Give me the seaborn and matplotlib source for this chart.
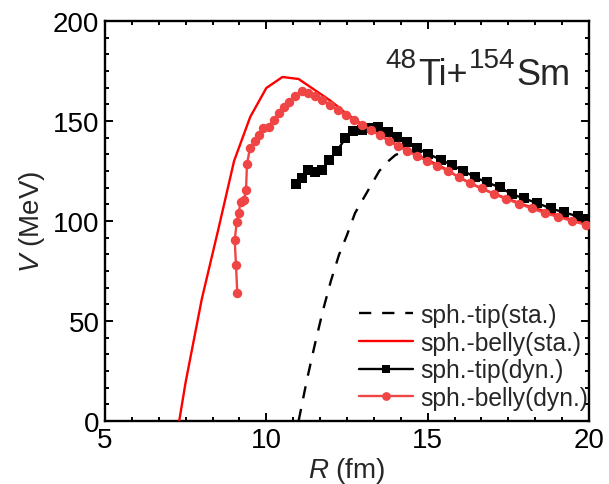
import numpy as np
import pandas as pd
import matplotlib
matplotlib.use("Agg")
import matplotlib.pyplot as plt
from matplotlib.ticker import AutoMinorLocator
from matplotlib.lines import Line2D
import seaborn as sns

# ---- data ----
tip_sta_R = [11.0, 11.25, 11.5, 11.75, 12.0, 12.25, 12.5, 12.75, 13.0, 13.25, 13.5, 13.75, 14.0, 14.3]
tip_sta_V = [0, 20, 38, 55, 70, 83, 93, 104, 111, 118, 125, 129.5, 133, 135]

belly_sta_R = [7.3, 7.5, 8.0, 8.5, 9.0, 9.5, 10.0, 10.5, 11.0, 11.5, 12.0, 12.5, 13.0, 13.5,
               14.0, 14.5, 15.0, 15.5, 16.0, 16.5, 17.0, 17.5, 18.0, 18.5, 19.0, 19.5, 20.0]
belly_sta_V = [0, 19.5, 61, 95, 130, 152, 166.5, 172, 171, 165.5, 160, 153.5, 148, 143,
               138.5, 134.5, 130.5, 126.5, 121.5, 117.5, 114, 111, 108, 105.5, 103, 100.5, 98]

tip_dyn_R = [10.91, 11.09, 11.28, 11.51, 11.71, 11.95, 12.2, 12.45, 12.69, 12.95, 13.21, 13.47,
             13.78, 14.06, 14.37, 14.68, 15.02, 15.4, 15.74, 16.1, 16.47, 16.84, 17.24, 17.6,
             17.98, 18.39, 18.81, 19.23, 19.66, 19.92]
tip_dyn_V = [118.5, 121.5, 125.5, 124.3, 125.5, 130.7, 135.2, 141.4, 144.8, 145.7, 146.3, 146.8,
             144.5, 141.8, 139.3, 136.3, 133.5, 130.7, 128, 125.2, 121.8, 119.3, 116.8, 113.5,
             111.3, 109, 106.3, 104.3, 102.3, 101]

belly_dyn_R = [9.10, 9.06, 9.02, 9.08, 9.14, 9.20, 9.31, 9.37, 9.40, 9.49, 9.64, 9.76, 9.91,
               10.07, 10.24, 10.38, 10.55, 10.69, 10.90, 11.09, 11.28, 11.51, 11.73, 11.97,
               12.21, 12.46, 12.72, 12.98, 13.25, 13.52, 13.80, 14.08, 14.37, 14.67, 14.98,
               15.30, 15.63, 15.97, 16.32, 16.68, 17.05, 17.43, 17.82, 18.22, 18.63, 19.05,
               19.48, 19.92]
belly_dyn_V = [63.8, 78, 90.3, 99.3, 103.8, 109.3, 110.7, 115.5, 128.3, 136.3, 139.8, 143, 146.3,
               147.2, 150.5, 154, 156.8, 159.3, 162.7, 164.8, 163.8, 162.3, 160.7, 158.2,
               155.7, 153.2, 150.5, 148, 145.5, 142.8, 140, 137.5, 135, 132.5, 130,
               127.5, 125, 122, 119, 116.3, 113.5, 111, 108.7, 106.3, 104, 102,
               100, 98]

labels = ["sph.-tip(sta.)", "sph.-belly(sta.)", "sph.-tip(dyn.)", "sph.-belly(dyn.)"]
x_ticks = [5, 10, 15, 20]
y_ticks = [0, 50, 100, 150, 200]
title_parts = [("48", True), ("Ti+", False), ("154", True), ("Sm", False)]

sns.set_theme(style="white")
plt.rcParams["font.family"] = ["Liberation Sans", "DejaVu Sans"]
plt.rcParams["mathtext.fontset"] = "custom"
plt.rcParams["mathtext.rm"] = "Liberation Sans"
plt.rcParams["mathtext.it"] = "Liberation Sans:italic"
plt.rcParams["mathtext.default"] = "regular"

W, H = 609, 485
fig = plt.figure(figsize=(W / 100, H / 100), dpi=100)
ax = fig.add_axes([105/W, 1-422/H, (589-105)/W, (422-22)/H])

red_dyn = "#F04545"
lw = 1.7
ms_sq = 6.5
ms_dot = 6.8

sns.lineplot(x=tip_sta_R, y=tip_sta_V, ax=ax, sort=False, estimator=None, color="black",
             lw=lw, zorder=2)
ax.lines[-1].set_dashes((5.2, 4.6))
sns.lineplot(x=belly_sta_R, y=belly_sta_V, ax=ax, sort=False, estimator=None, color="#FF0000",
             lw=lw, zorder=3)
sns.lineplot(x=tip_dyn_R, y=tip_dyn_V, ax=ax, sort=False, estimator=None, color="black",
             lw=lw, marker="s", markersize=ms_sq, markeredgewidth=0, zorder=4)
sns.lineplot(x=belly_dyn_R, y=belly_dyn_V, ax=ax, sort=False, estimator=None, color=red_dyn,
             lw=lw, marker="o", markersize=ms_dot, markeredgewidth=0, zorder=5)

ax.set_xlim(5, 20)
ax.set_ylim(0, 200)
ax.set_xticks(x_ticks)
ax.set_yticks(y_ticks)
ax.xaxis.set_minor_locator(AutoMinorLocator(6))
ax.yaxis.set_minor_locator(AutoMinorLocator(6))
ax.tick_params(which="both", direction="in", bottom=True, left=True, top=True, right=True,
               width=1.4, colors="black")
ax.tick_params(which="major", length=6, labelsize=20, pad=4)
ax.tick_params(which="minor", length=3)
for s in ax.spines.values():
    s.set_linewidth(1.7)
    s.set_color("black")

ax.set_xlabel(r"$\mathit{R}$ (fm)", fontsize=20, labelpad=2)
ax.set_ylabel(r"$\mathit{V}$ (MeV)", fontsize=20, labelpad=4)

# title "48Ti+154Sm" built from pieces (superscripts larger than mathtext default)
renderer = fig.canvas.get_renderer()
texts = []
for s, sup in title_parts:
    t = fig.text(0, 0, s, fontsize=20 if sup else 26, ha="left", va="baseline")
    texts.append((t, sup))
widths = [t.get_window_extent(renderer).width for t, _ in texts]
gap = 1.5
total = sum(widths) + gap * (len(widths) - 1)
x = 571 - total
base = H - 85
for (t, sup), w in zip(texts, widths):
    t.set_position((x / W, (base + (17 if sup else 0)) / H))
    x += w + gap

handles = [
    Line2D([], [], color="black", lw=lw, dashes=(5.2, 4.6)),
    Line2D([], [], color="#FF0000", lw=lw),
    Line2D([], [], color="black", lw=lw, marker="s", markersize=ms_sq - 0.7, markeredgewidth=0),
    Line2D([], [], color=red_dyn, lw=lw, marker="o", markersize=ms_dot - 0.5, markeredgewidth=0),
]
ax.legend(handles, labels, loc="lower right", frameon=False, fontsize=17.7,
          handlelength=2.2, handletextpad=0.3, labelspacing=0.15, borderaxespad=0.1,
          bbox_to_anchor=(1.023, -0.003))

fig.savefig("out.png", dpi=100)
